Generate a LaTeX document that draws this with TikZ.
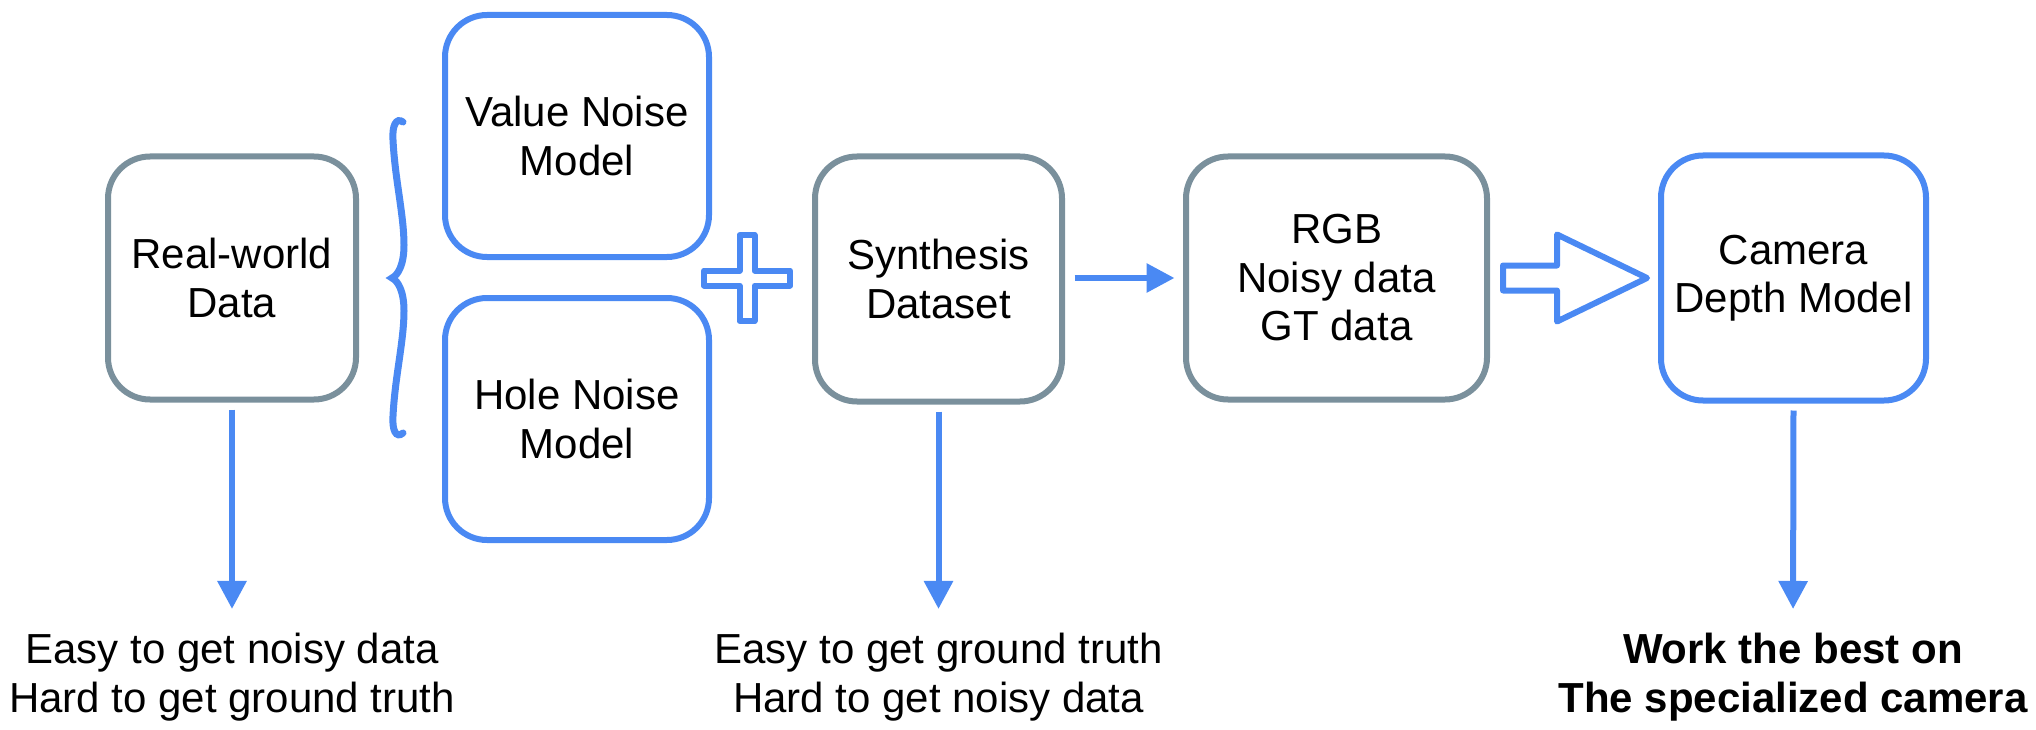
\documentclass[tikz,border=0pt]{standalone}
\usepackage{fontspec}
\setmainfont{Liberation Sans}
\usetikzlibrary{arrows.meta,calc}
\definecolor{myblue}{HTML}{4A89F3}
\definecolor{boxgray}{HTML}{7A909C}
\newcommand{\bodyfont}{\fontsize{42pt}{48.5pt}\selectfont}
\tikzset{
  box/.style={draw, line width=6pt, rounded corners=42pt, inner sep=0pt, align=center, font=\bodyfont, fill=white},
  graybox/.style={box, draw=boxgray},
  bluebox/.style={box, draw=myblue},
  note/.style={inner sep=0pt, align=center, font=\bodyfont},
  downarr/.style={draw=myblue, line width=6pt, -{Triangle[length=28pt,width=28pt]}, shorten <=7pt, shorten >=24pt},
  rightarr/.style={draw=myblue, line width=6pt, -{Triangle[length=28pt,width=28pt]}},
  outline/.style={draw=myblue, line width=6pt, line join=round}
}
\begin{document}
\begin{tikzpicture}[x=1pt,y=-1pt]
\useasboundingbox (0,0) rectangle (2036,730);
% boxes
\node[graybox, minimum width=248pt, minimum height=243pt] (rw) at (232,278) {Real-world\\Data};
\node[bluebox, minimum width=264pt, minimum height=242pt] (vn) at (577,136) {Value Noise\\Model};
\node[bluebox, minimum width=264pt, minimum height=242pt] (hn) at (577,419) {Hole Noise\\Model};
\node[graybox, minimum width=247pt, minimum height=245pt] (syn) at (938.5,279) {Synthesis\\Dataset};
\node[graybox, minimum width=301pt, minimum height=243pt] (rgb) at (1336.5,278) {RGB\\Noisy data\\GT data};
\node[bluebox, minimum width=265pt, minimum height=245pt] (cam) at (1793.5,278) {Camera\\Depth Model};
% bottom notes
\node[note] (t1) at (232,677) {Easy to get noisy data\\Hard to get ground truth};
\node[note] (t2) at (938.5,677) {Easy to get ground truth\\Hard to get noisy data};
\node[note, font=\bodyfont\bfseries] (t3) at (1793,677) {Work the best on\\The specialized camera};
% down arrows
\draw[downarr] (rw.south) -- (t1.north);
\draw[downarr] (syn.south) -- (t2.north);
\draw[downarr] (cam.south) -- (t3.north);
% synthesis -> rgb
\draw[rightarr, shorten <=9.5pt, shorten >=8.5pt] (syn.east |- rgb.west) -- (rgb.west);
% big hollow arrow
\coordinate (ba) at ($(rgb.east)+(13,0)$);
\coordinate (bt) at ($(cam.west)+(-11,0)$);
\draw[outline] ($(ba)+(0,-12.5)$) -- ($(ba)+(54,-12.5)$) -- ($(ba)+(54,-43.5)$) -- (bt)
  -- ($(ba)+(54,43.5)$) -- ($(ba)+(54,12.5)$) -- ($(ba)+(0,12.5)$) -- cycle;
% plus sign
\draw[outline] (739.5,235) -- ++(15,0) -- ++(0,35.5) -- ++(35.5,0) -- ++(0,15) -- ++(-35.5,0)
  -- ++(0,35.5) -- ++(-15,0) -- ++(0,-35.5) -- ++(-35.5,0) -- ++(0,-15) -- ++(35.5,0) -- cycle;
% brace
\draw[draw=myblue, line width=7pt, line cap=round]
  (403,122) .. controls (396,117) and (392,126) .. (393,140)
  .. controls (395,180) and (404,215) .. (404,245)
  .. controls (404,265) and (398,275) .. (392,278)
  .. controls (398,281) and (404,291) .. (404,311)
  .. controls (404,341) and (395,376) .. (393,416)
  .. controls (392,430) and (396,439) .. (403,433);
\end{tikzpicture}
\end{document}
